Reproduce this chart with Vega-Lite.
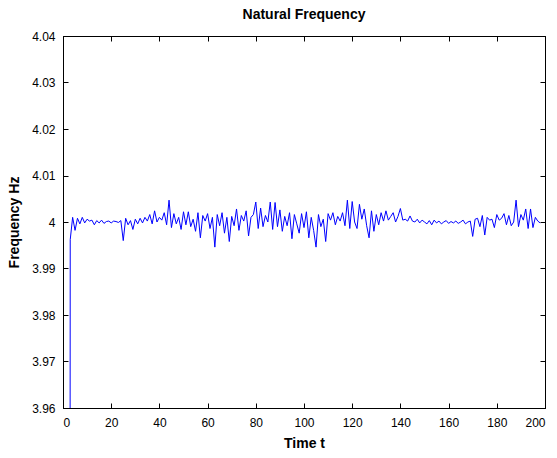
{
  "$schema": "https://vega.github.io/schema/vega-lite/v6.json",
  "autosize": "none",
  "width": 482,
  "height": 372,
  "padding": {"left": 63, "top": 36, "right": 12, "bottom": 50},
  "background": "white",
  "config": {
    "font": "Liberation Sans",
    "view": {"stroke": "black", "strokeWidth": 1},
    "axis": {"grid": false, "domainColor": "black", "tickColor": "black", "labelColor": "black", "titleColor": "black", "labelFont": "Liberation Sans", "titleFont": "Liberation Sans", "labelFontSize": 12, "titleFontSize": 14, "titleFontWeight": "bold"}
  },
  "title": {"text": "Natural Frequency", "font": "Liberation Sans", "fontSize": 14, "fontWeight": "bold", "color": "black", "offset": 8},
  "data": {"values": [
    {"t":2,"d":-9000},{"t":3,"d":-38},{"t":4,"d":10},{"t":5,"d":-18},{"t":6,"d":8},{"t":7,"d":-4},{"t":8,"d":10},{"t":9,"d":-2},{"t":10,"d":6},
    {"t":11,"d":2},{"t":12,"d":4},{"t":13,"d":-6},{"t":14,"d":3},{"t":15,"d":-2},{"t":16,"d":4},{"t":17,"d":-3},{"t":18,"d":1},{"t":19,"d":2},{"t":20,"d":-2},
    {"t":21,"d":2},{"t":22,"d":1},{"t":23,"d":-1},{"t":24,"d":3},{"t":25,"d":-40},{"t":26,"d":8},{"t":27,"d":-6},{"t":28,"d":3},{"t":29,"d":-16},{"t":30,"d":6},
    {"t":31,"d":-4},{"t":32,"d":8},{"t":33,"d":-2},{"t":34,"d":10},{"t":35,"d":2},{"t":36,"d":16},{"t":37,"d":-4},{"t":38,"d":24},{"t":39,"d":0},{"t":40,"d":10},
    {"t":41,"d":4},{"t":42,"d":20},{"t":43,"d":-6},{"t":44,"d":47},{"t":45,"d":-12},{"t":46,"d":18},{"t":47,"d":-4},{"t":48,"d":10},{"t":49,"d":-16},{"t":50,"d":22},
    {"t":51,"d":-6},{"t":52,"d":22},{"t":53,"d":-10},{"t":54,"d":6},{"t":55,"d":-20},{"t":56,"d":20},{"t":57,"d":-34},{"t":58,"d":14},{"t":59,"d":2},{"t":60,"d":18},
    {"t":61,"d":-14},{"t":62,"d":10},{"t":63,"d":-54},{"t":64,"d":16},{"t":65,"d":-8},{"t":66,"d":20},{"t":67,"d":-24},{"t":68,"d":10},{"t":69,"d":-42},{"t":70,"d":12},
    {"t":71,"d":-8},{"t":72,"d":28},{"t":73,"d":-18},{"t":74,"d":14},{"t":75,"d":2},{"t":76,"d":24},{"t":77,"d":-30},{"t":78,"d":10},{"t":79,"d":16},{"t":80,"d":43},
    {"t":81,"d":-14},{"t":82,"d":30},{"t":83,"d":-10},{"t":84,"d":14},{"t":85,"d":0},{"t":86,"d":43},{"t":87,"d":-16},{"t":88,"d":42},{"t":89,"d":-10},{"t":90,"d":26},
    {"t":91,"d":-20},{"t":92,"d":12},{"t":93,"d":-8},{"t":94,"d":20},{"t":95,"d":-36},{"t":96,"d":16},{"t":97,"d":-4},{"t":98,"d":-24},{"t":99,"d":18},{"t":100,"d":-12},
    {"t":101,"d":22},{"t":102,"d":-34},{"t":103,"d":10},{"t":104,"d":-18},{"t":105,"d":-54},{"t":106,"d":16},{"t":107,"d":-10},{"t":108,"d":6},{"t":109,"d":-42},{"t":110,"d":18},
    {"t":111,"d":4},{"t":112,"d":20},{"t":113,"d":-6},{"t":114,"d":12},{"t":115,"d":2},{"t":116,"d":20},{"t":117,"d":-8},{"t":118,"d":47},{"t":119,"d":-14},{"t":120,"d":44},
    {"t":121,"d":0},{"t":122,"d":-14},{"t":123,"d":38},{"t":124,"d":6},{"t":125,"d":28},{"t":126,"d":-8},{"t":127,"d":-34},{"t":128,"d":24},{"t":129,"d":-20},{"t":130,"d":16},
    {"t":131,"d":-6},{"t":132,"d":20},{"t":133,"d":2},{"t":134,"d":24},{"t":135,"d":4},{"t":136,"d":12},{"t":137,"d":20},{"t":138,"d":0},{"t":139,"d":12},{"t":140,"d":29},
    {"t":141,"d":4},{"t":142,"d":6},{"t":143,"d":2},{"t":144,"d":13},{"t":145,"d":2},{"t":146,"d":0},{"t":147,"d":6},{"t":148,"d":-2},{"t":149,"d":4},{"t":150,"d":0},
    {"t":151,"d":-4},{"t":152,"d":3},{"t":153,"d":-6},{"t":154,"d":4},{"t":155,"d":-2},{"t":156,"d":2},{"t":157,"d":-4},{"t":158,"d":0},{"t":159,"d":3},{"t":160,"d":-3},
    {"t":161,"d":1},{"t":162,"d":-2},{"t":163,"d":2},{"t":164,"d":-3},{"t":165,"d":0},{"t":166,"d":4},{"t":167,"d":-4},{"t":168,"d":0},{"t":169,"d":2},{"t":170,"d":-31},
    {"t":171,"d":6},{"t":172,"d":8},{"t":173,"d":-10},{"t":174,"d":14},{"t":175,"d":-28},{"t":176,"d":10},{"t":177,"d":4},{"t":178,"d":6},{"t":179,"d":-12},{"t":180,"d":16},
    {"t":181,"d":4},{"t":182,"d":8},{"t":183,"d":18},{"t":184,"d":-6},{"t":185,"d":14},{"t":186,"d":-8},{"t":187,"d":0},{"t":188,"d":47},{"t":189,"d":-10},{"t":190,"d":16},
    {"t":191,"d":4},{"t":192,"d":28},{"t":193,"d":-14},{"t":194,"d":28},{"t":195,"d":-12},{"t":196,"d":10},{"t":197,"d":2},{"t":198,"d":-2}
  ]},
  "transform": [{"calculate": "4 + datum.d / 10000", "as": "f"}],
  "layer": [
    {
      "mark": {"type": "line", "color": "#0000FF", "strokeWidth": 1, "clip": true},
      "encoding": {
        "x": {"field": "t", "type": "quantitative", "scale": {"domain": [0, 200], "nice": false}, "axis": {"title": "Time t", "values": [0,20,40,60,80,100,120,140,160,180,200], "tickSize": -5, "labelPadding": 14, "titlePadding": 8, "labelAngle": 0}},
        "y": {"field": "f", "type": "quantitative", "scale": {"domain": [3.96, 4.04], "nice": false, "zero": false}, "axis": {"title": "Frequency Hz", "values": [3.96,3.97,3.98,3.99,4,4.01,4.02,4.03,4.04], "format": ".2~f", "tickSize": -5, "labelPadding": 13, "titlePadding": 10}}
      }
    },
    {
      "mark": {"type": "line", "opacity": 0, "clip": true},
      "encoding": {
        "x": {"field": "t", "type": "quantitative", "axis": {"orient": "top", "title": null, "labels": false, "values": [0,20,40,60,80,100,120,140,160,180,200], "tickSize": -5}},
        "y": {"field": "f", "type": "quantitative", "axis": {"orient": "right", "title": null, "labels": false, "values": [3.96,3.97,3.98,3.99,4,4.01,4.02,4.03,4.04], "tickSize": -5}}
      }
    }
  ],
  "resolve": {"axis": {"x": "independent", "y": "independent"}}
}
